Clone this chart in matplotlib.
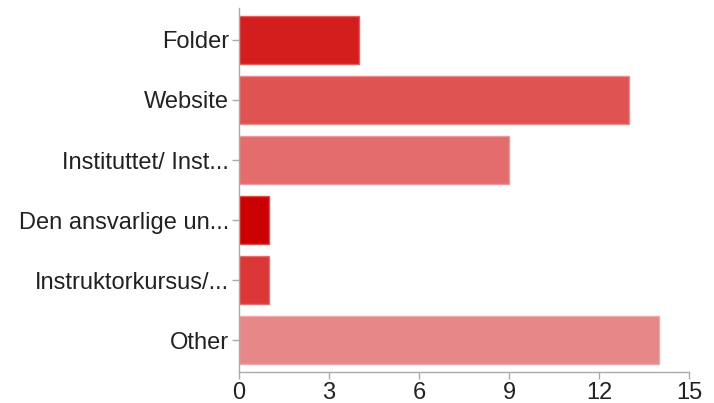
import matplotlib
matplotlib.use('Agg')
import matplotlib.pyplot as plt

categories = ['Folder', 'Website', 'Instituttet/ Inst...', 'Den ansvarlige un...',
              'Instruktorkursus/...', 'Other']
counts = [4, 13, 9, 1, 1, 14]
bar_colors = ['#d41e1e', '#df5353', '#e36d6d', '#cc0000', '#db3737', '#e68888']
edge_colors = ['#e46060', '#ea8a8a', '#ed9999', '#dd5050', '#e67070', '#eeaaaa']
xticks = [0, 3, 6, 9, 12, 15]

plt.rcParams['font.family'] = ['Liberation Sans', 'DejaVu Sans']

fig = plt.figure(figsize=(7.14, 4.03), dpi=100)
ax = fig.add_axes([0.3347, 0.0769, 0.6303, 0.903])

y = list(range(len(categories)))
ax.barh(y, counts, height=0.8, color=bar_colors, edgecolor=edge_colors, linewidth=1)

ax.set_ylim(len(categories) - 0.47, -0.53)
ax.set_xlim(0, 15)
ax.set_yticks(y)
ax.set_yticklabels(categories, fontsize=17, color='#222222')
ax.set_xticks(xticks)
ax.set_xticklabels([str(t) for t in xticks], fontsize=17, color='#222222')

for s in ['top', 'right']:
    ax.spines[s].set_visible(False)
for s in ['left', 'bottom']:
    ax.spines[s].set_color('#aaaaaa')
    ax.spines[s].set_linewidth(1)
ax.tick_params(axis='both', colors='#aaaaaa', labelcolor='#222222', length=5, width=1)
ax.tick_params(axis='y', pad=2)
ax.tick_params(axis='x', pad=2)

fig.savefig('out.png', dpi=100)
